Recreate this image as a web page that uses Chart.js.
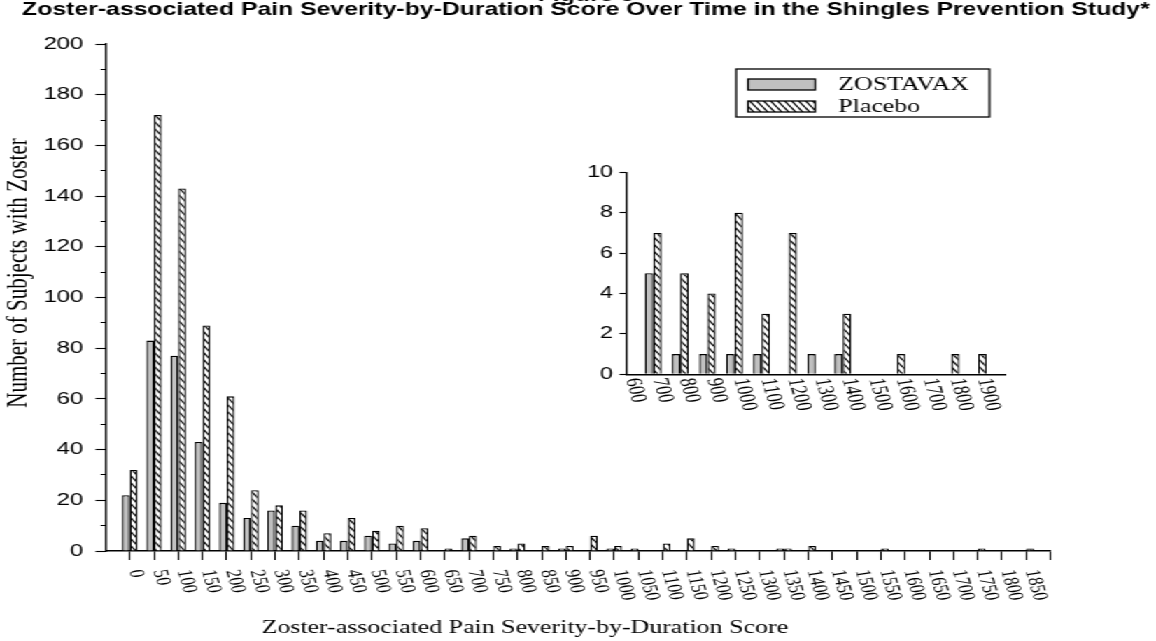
<!DOCTYPE html>
<html>
<head>
<meta charset="utf-8">
<title>Zoster-associated Pain Severity-by-Duration Score</title>
<script src="https://cdn.jsdelivr.net/npm/chart.js@4.4.1/dist/chart.umd.min.js"></script>
<style>
  html, body { margin: 0; padding: 0; background: #fff; overflow: hidden; }
  /* the original figure is stretched sideways, so the whole stage is too */
  #stage { position: relative; width: 826px; height: 641px; transform: scaleX(1.3995); transform-origin: 0 0; }
  #main { position: absolute; left: 0; top: -12px; }
  #inset { position: absolute; left: 390px; top: 150px; }
</style>
</head>
<body>
<div id="stage">
  <canvas id="main" width="826" height="653"></canvas>
  <canvas id="inset" width="360" height="280"></canvas>
</div>
<script>
// main histogram: score bins of 50
const scoreBins = [0, 50, 100, 150, 200, 250, 300, 350, 400, 450, 500, 550, 600, 650, 700, 750, 800, 850, 900, 950,
  1000, 1050, 1100, 1150, 1200, 1250, 1300, 1350, 1400, 1450, 1500, 1550, 1600, 1650, 1700, 1750, 1800, 1850];
const zostavaxCounts = [22, 83, 77, 43, 19, 13, 16, 10, 4, 4, 6, 3, 4, 0, 5, 0, 1, 0, 1, 0,
  1, 1, 0, 0, 0, 1, 0, 1, 0, 0, 0, 0, 0, 0, 0, 0, 0, 0];
const placeboCounts = [32, 172, 143, 89, 61, 24, 18, 16, 7, 13, 8, 10, 9, 1, 6, 2, 3, 2, 2, 6,
  2, 0, 3, 5, 2, 0, 0, 1, 2, 0, 0, 1, 0, 0, 0, 1, 0, 1];

// inset: scores of 600 and more, bins of 100
const insetBins = [600, 700, 800, 900, 1000, 1100, 1200, 1300, 1400, 1500, 1600, 1700, 1800, 1900];
const insetZostavax = [0, 5, 1, 1, 1, 1, 0, 1, 1, 0, 0, 0, 0, 0];
const insetPlacebo = [0, 7, 5, 4, 8, 3, 7, 0, 3, 0, 1, 0, 1, 1];

const seriesNames = ['ZOSTAVAX', 'Placebo'];
const titleLines = ['Figure 3', 'Zoster-associated Pain Severity-by-Duration Score Over Time in the Shingles Prevention Study*'];
const xTitle = 'Zoster-associated Pain Severity-by-Duration Score';
const yTitle = 'Number of Subjects with Zoster';

const SANS = 'Liberation Sans';
const SERIF = 'Liberation Serif';
const GRAY = '#c0c0c0';

function makeHatch(ctx) {
  const c = document.createElement('canvas');
  c.width = 5; c.height = 7;
  const g = c.getContext('2d');
  g.fillStyle = '#fff';
  g.fillRect(0, 0, 5, 7);
  g.strokeStyle = '#000';
  g.lineWidth = 1.25;
  for (const dx of [-5, 0, 5]) {
    g.beginPath();
    g.moveTo(dx, 0);
    g.lineTo(dx + 5, 7);
    g.stroke();
  }
  return ctx.createPattern(c, 'repeat');
}

// category labels drawn slanted downwards from each tick
const slantTicks = {
  id: 'slantTicks',
  afterDraw(chart, args, opts) {
    const { ctx } = chart;
    const x = chart.scales.x;
    ctx.save();
    ctx.font = opts.size + 'px "' + SERIF + '"';
    ctx.fillStyle = '#000';
    ctx.textAlign = 'left';
    ctx.textBaseline = 'middle';
    chart.data.labels.forEach((label, i) => {
      if (label === '') return;
      ctx.save();
      ctx.translate(x.getPixelForTick(i) + opts.dx, x.top + opts.dy);
      ctx.rotate(opts.angle * Math.PI / 180);
      ctx.fillText(label, 0, 0);
      ctx.restore();
    });
    ctx.restore();
  }
};

// figure title (top line cut off by the page edge), axis titles and the boxed legend
const figureExtras = {
  id: 'figureExtras',
  afterDraw(chart, args, opts) {
    const { ctx } = chart;
    ctx.save();
    ctx.fillStyle = '#000';
    ctx.strokeStyle = '#000';
    ctx.textAlign = 'center';
    ctx.textBaseline = 'middle';
    ctx.font = 'bold 17.7px "' + SANS + '"';
    opts.title.forEach((line, i) => ctx.fillText(line, 418.7, 8 + i * 14));

    ctx.font = '18.5px "' + SERIF + '"';
    ctx.fillText(opts.xTitle, 375, 640);
    ctx.save();
    ctx.translate(13, 285);
    ctx.rotate(-Math.PI / 2);
    ctx.font = '21px "' + SERIF + '"';
    ctx.fillText(opts.yTitle, 0, 0);
    ctx.restore();

    ctx.lineWidth = 1.3;
    ctx.strokeRect(526, 81, 181, 48);
    ctx.textAlign = 'left';
    ctx.font = '18.5px "' + SERIF + '"';
    chart.data.datasets.forEach((ds, i) => {
      const y = 91 + i * 22;
      ctx.fillStyle = ds.backgroundColor;
      ctx.fillRect(534.5, y, 48, 11);
      ctx.strokeRect(534.5, y, 48, 11);
      ctx.fillStyle = '#000';
      ctx.fillText(ds.label, 599, y + 6);
    });
    ctx.restore();
  }
};

const mainCtx = document.getElementById('main').getContext('2d');
const insetCtx = document.getElementById('inset').getContext('2d');

new Chart(mainCtx, {
  type: 'bar',
  data: {
    labels: ['', ...scoreBins.map(String), ''],
    datasets: [
      { label: seriesNames[0], data: [null, ...zostavaxCounts, null], backgroundColor: GRAY,
        borderColor: '#000', borderWidth: 1.3, categoryPercentage: 0.64, barPercentage: 1 },
      { label: seriesNames[1], data: [null, ...placeboCounts, null], backgroundColor: makeHatch(mainCtx),
        borderColor: '#000', borderWidth: 1.3, categoryPercentage: 0.64, barPercentage: 1 }
    ]
  },
  options: {
    responsive: false,
    animation: false,
    devicePixelRatio: 1,
    events: [],
    layout: { padding: { left: 0, right: 75.4, top: 56, bottom: 0 } },
    scales: {
      x: {
        offset: false,
        grid: { offset: false, drawOnChartArea: false, tickLength: 9, tickWidth: 1.1,
          tickColor: c => c.index === 0 ? 'rgba(0,0,0,0)' : '#000' },
        border: { color: '#000', width: 1.4 },
        ticks: { display: false, autoSkip: false },
        afterFit: s => { s.height = 90; }
      },
      y: {
        min: 0,
        max: 200,
        grid: { drawOnChartArea: false, tickLength: 7.1, tickColor: '#000', tickWidth: 1.1,
          tickBorderDash: c => (c.tick && c.tick.value % 20 !== 0) ? [0, 3.6, 20, 0] : [] },
        border: { color: '#000', width: 1.4 },
        ticks: { stepSize: 10, padding: 8.8, color: '#000', font: { family: SANS, size: 17 },
          callback: v => v % 20 === 0 ? v : '' },
        afterFit: s => { s.width = 75.4; }
      }
    },
    plugins: {
      legend: { display: false },
      tooltip: { enabled: false },
      title: { display: false },
      slantTicks: { size: 15.5, angle: 78, dx: 3.5, dy: 19 },
      figureExtras: { title: titleLines, xTitle: xTitle, yTitle: yTitle }
    }
  },
  plugins: [slantTicks, figureExtras]
});

new Chart(insetCtx, {
  type: 'bar',
  data: {
    labels: [...insetBins.map(String), ''],
    datasets: [
      { label: seriesNames[0], data: [...insetZostavax, null], backgroundColor: GRAY,
        borderColor: '#000', borderWidth: 1.3, categoryPercentage: 0.62, barPercentage: 1 },
      { label: seriesNames[1], data: [...insetPlacebo, null], backgroundColor: makeHatch(insetCtx),
        borderColor: '#000', borderWidth: 1.3, categoryPercentage: 0.62, barPercentage: 1 }
    ]
  },
  options: {
    responsive: false,
    animation: false,
    devicePixelRatio: 1,
    events: [],
    layout: { padding: { left: 0, right: 31.7, top: 22.3, bottom: 0 } },
    scales: {
      x: {
        offset: false,
        grid: { display: false, offset: false },
        border: { color: '#000', width: 1.4 },
        ticks: { display: false, autoSkip: false },
        afterFit: s => { s.height = 55.7; }
      },
      y: {
        min: 0,
        max: 10,
        grid: { drawOnChartArea: false, tickLength: 4.8, tickColor: '#000', tickWidth: 1.1,
          tickBorderDash: c => (c.tick && c.tick.value % 2 !== 0) ? [0, 2.4, 20, 0] : [] },
        border: { color: '#000', width: 1.4 },
        ticks: { stepSize: 1, padding: 4.6, color: '#000', font: { family: SANS, size: 16.5 },
          callback: v => v % 2 === 0 ? v : '' },
        afterFit: s => { s.width = 57.4; }
      }
    },
    plugins: {
      legend: { display: false },
      tooltip: { enabled: false },
      slantTicks: { size: 16.5, angle: 78, dx: 4, dy: 4 }
    }
  },
  plugins: [slantTicks]
});
</script>
</body>
</html>
